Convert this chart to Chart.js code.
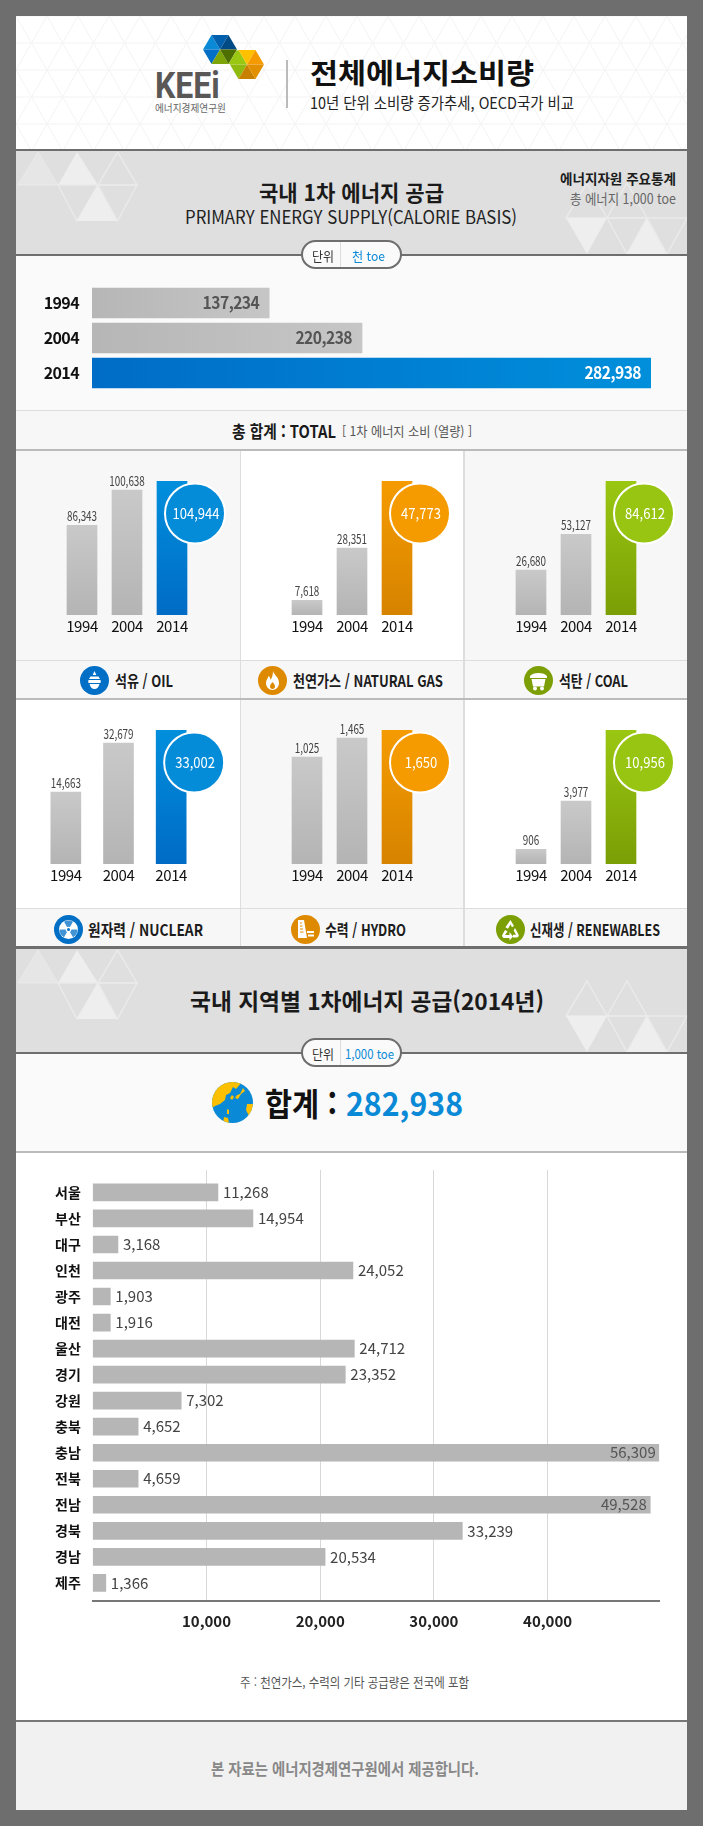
<!DOCTYPE html>
<html lang="ko"><head><meta charset="utf-8"><title>전체에너지소비량</title>
<script src="https://cdn.jsdelivr.net/npm/chart.js@4/dist/chart.umd.js"></script>
<style>
html,body{margin:0;padding:0;background:#6e6e6e;width:703px;height:1826px;overflow:hidden}
#page{position:relative;width:703px;height:1826px;overflow:hidden;font-family:"Noto Sans CJK KR","Noto Sans",sans-serif}
.b{position:absolute}
.t{position:absolute;white-space:nowrap;line-height:1;transform-origin:0 50%}
canvas{position:absolute;display:block}
svg{position:absolute}
</style></head><body><div id="page"></div>
<script>
/* The reference's bars are not proportional to the numbers printed on them, so each
   chart keeps the printed numbers and the bar lengths. */
const years=['1994','2004','2014'];
const totalPrinted=[137234,220238,282938];
const totalBars=[31.7,48.3,100];
const oilPrinted=[86343,100638,104944];
const oilBars=[67,93.2,100];
const gasPrinted=[7618,28351,47773];
const gasBars=[11,50,100];
const coalPrinted=[26680,53127,84612];
const coalBars=[33.5,60.2,100];
const nuclearPrinted=[14663,32679,33002];
const nuclearBars=[53.7,90.3,100];
const hydroPrinted=[1025,1465,1650];
const hydroBars=[79.8,94,100];
const renewPrinted=[906,3977,10956];
const renewBars=[11,46.9,100];
const regionNames=['서울','부산','대구','인천','광주','대전','울산','경기','강원','충북','충남','전북','전남','경북','경남','제주'];
const regionPrinted=[11268,14954,3168,24052,1903,1916,24712,23352,7302,4652,56309,4659,49528,33239,20534,1366];
const regionBars=[11005,14083,2210,22880,1540,1540,23000,22208,7772,3987,49815,3987,49025,32500,20430,1145];
const regionTicks=[10000,20000,30000,40000];

const FONT='"Noto Sans CJK KR","Noto Sans",sans-serif';
const page=document.getElementById('page');
const fmt=v=>v.toLocaleString('en-US');
function box(x,y,w,h,c){const d=document.createElement('div');d.className='b';d.style.cssText=`left:${x}px;top:${y}px;width:${w}px;height:${h}px;background:${c}`;page.appendChild(d);return d}
function T(s,x,y,w,size,weight,color){const d=document.createElement('div');d.className='t';d.textContent=s;
 d.style.cssText=`left:${x}px;top:${y}px;font-size:${size}px;font-weight:${weight};color:${color}`;page.appendChild(d);
 const m=d.getBoundingClientRect().width;d.style.transform=`translateY(-50%) scaleX(${w/m})`;return d}
function svg(x,y,w,h,inner){const n=document.createElementNS('http://www.w3.org/2000/svg','svg');n.setAttribute('width',w);n.setAttribute('height',h);n.setAttribute('viewBox',`0 0 ${w} ${h}`);n.style.left=x+'px';n.style.top=y+'px';n.innerHTML=inner;page.appendChild(n);return n}

/* ---------- backgrounds ---------- */
box(16,16,671,133,'#fff');
svg(16,16,671,133,`<defs><pattern id="tri" width="31" height="54" patternUnits="userSpaceOnUse" y="0"><path d="M0 0H31M0 27H31M0 54H31M0 0L31 54M31 0L0 54" stroke="#f3f3f3" fill="none" stroke-width="1"/></pattern></defs><rect width="671" height="133" fill="url(#tri)"/>`);
box(16,149,671,2,'#6e6e6e');
box(16,151,671,103,'#dfdfdf');
box(16,254,671,2,'#6e6e6e');
box(16,256,671,154,'#fafafa');
box(16,410,671,1,'#dddddd');
box(16,411,671,38,'#f7f7f7');
box(16,449,671,2,'#bbbbbb');
const colX=[16,241,465],colW=[223.5,222,222];
[[451,209,['#f7f7f7','#ffffff','#f7f7f7']],[700,208,['#ffffff','#f7f7f7','#ffffff']]].forEach(([y,h,cs])=>{
 cs.forEach((c,i)=>box(colX[i],y,colW[i],h,c));
 box(16,y+h,671,1,'#dddddd');
 box(16,y+h+1,671,37,'#f7f7f7');
 box(239.5,y,1.5,h+38,'#dddddd');box(463,y,2,h+38,'#dddddd');
});
box(16,698,671,2,'#bbbbbb');
box(16,947,671,2,'#6e6e6e');
box(16,949,671,103,'#dfdfdf');
box(16,1052,671,2,'#6e6e6e');
box(16,1054,671,97,'#fafafa');
box(16,1151,671,2,'#bbbbbb');
box(16,1153,671,568,'#ffffff');
box(16,1720,671,2,'#777777');
box(16,1722,671,88,'#f1f1f1');

function deco(dy){
 const f='#eeeeee';const o=`fill="none" stroke="#eaeaea" stroke-width="1.5"`;
 const P=(p,a)=>`<polygon points="${p}" ${a}/>`;
 return svg(16,dy+151,671,103,
 [P('2,34 22,1 42,34',`fill="#e6e6e6" stroke="#eaeaea"`),P('42,34 61,1 82,34',`fill="${f}"`),P('82,34 101.5,1 121,34',o),
  P('42,34 82,34 61,70',o),P('61,70 82,34 101.5,70',`fill="${f}"`),P('82,34 121,34 101.5,70',o),
  P('550,67 571,32 591,67',o),P('591,67 611,32 631,67',o),P('550,67 591,67 571,103',`fill="${f}"`),P('591,67 631,67 611,103',o),
  P('611,103 631,67 651,103',`fill="${f}"`),P('631,67 671,67 651,103',o)].join(''));
}
deco(0);deco(798);
</script>
<script>
/* ---------- charts ---------- */
Chart.defaults.animation=false;Chart.defaults.responsive=false;Chart.defaults.devicePixelRatio=1;
Chart.defaults.font.family=FONT;
Chart.defaults.plugins.legend.display=false;Chart.defaults.plugins.tooltip.enabled=false;

function canvas(x,y,w,h){const c=document.createElement('canvas');c.width=w;c.height=h;c.style.cssText=`left:${x}px;top:${y}px;width:${w}px;height:${h}px`;page.appendChild(c);return c}
function squeezed(ctx,text,x,y,sx,align,font,color){ctx.save();ctx.font=font;ctx.fillStyle=color;ctx.textBaseline='middle';ctx.textAlign=align;ctx.translate(x,y);ctx.scale(sx,1);ctx.fillText(text,0,0);ctx.restore()}
const spacing=px=>({id:'spacing',beforeDraw(c){c.ctx.letterSpacing=px}});
const noPad=s=>{s.paddingTop=s.paddingBottom=s.paddingLeft=s.paddingRight=0};

/* top horizontal bars */
new Chart(canvas(16,256,671,154),{type:'bar',
 data:{labels:years,datasets:[{data:totalBars,barThickness:30,backgroundColor(ctx){
   const c=ctx.chart,a=c.chartArea;if(!a)return '#bbb';
   const x1=c.scales.x.getPixelForValue(ctx.raw);const g=c.ctx.createLinearGradient(a.left,0,x1,0);
   if(ctx.dataIndex===2){g.addColorStop(0,'#006cc6');g.addColorStop(1,'#008fdb')}else{g.addColorStop(0,'#b6b6b6');g.addColorStop(1,'#c6c6c6')}
   return g}}]},
 options:{indexAxis:'y',layout:{padding:{top:29.5,bottom:19.5,right:36}},
  scales:{x:{display:false,min:0,max:100},
   y:{afterFit(s){s.width=76;noPad(s)},grid:{display:false,drawTicks:false},border:{display:false},
      ticks:{padding:13,color:'#111',font:{size:16,weight:'bold'}}}}},
 plugins:[spacing('-0.6px'),{id:'vals',afterDatasetsDraw(c){
   c.getDatasetMeta(0).data.forEach((b,i)=>squeezed(c.ctx,fmt(totalPrinted[i]),b.x-10,b.y,.92,'right','bold 17px '+FONT,i===2?'#ffffff':'#555555'))}}]});

/* six small multiples */
const panels=[
 {x:0,r:0,left:59.5,w:135,bars:oilBars,vals:oilPrinted,c:['#008fdc','#006bc5'],dot:'#048cd9'},
 {x:1,r:0,left:284.5,w:135,bars:gasBars,vals:gasPrinted,c:['#f59b00','#d68300'],dot:'#f59b00'},
 {x:2,r:0,left:508.5,w:135,bars:coalBars,vals:coalPrinted,c:['#9ac712','#7a9e05'],dot:'#97c512'},
 {x:0,r:1,left:39.5,w:158,bars:nuclearBars,vals:nuclearPrinted,c:['#008fdc','#006bc5'],dot:'#048cd9'},
 {x:1,r:1,left:284.5,w:135,bars:hydroBars,vals:hydroPrinted,c:['#f59b00','#d68300'],dot:'#f59b00'},
 {x:2,r:1,left:508.5,w:135,bars:renewBars,vals:renewPrinted,c:['#9ac712','#7a9e05'],dot:'#97c512'}];
panels.forEach(p=>{
 const X=colX[p.x],Y=p.r?700:451,W=Math.ceil(colW[p.x]),H=208;
 const plotTop=(p.r?730:481)-Y;
 new Chart(canvas(X,Y,W,H),{type:'bar',
  data:{labels:years,datasets:[{data:p.bars,barThickness:30,backgroundColor(ctx){
    const c=ctx.chart,a=c.chartArea;if(!a)return '#bbb';
    const g=c.ctx.createLinearGradient(0,c.scales.y.getPixelForValue(ctx.raw),0,a.bottom);
    if(ctx.dataIndex===2){g.addColorStop(0,p.c[0]);g.addColorStop(1,p.c[1])}else{g.addColorStop(0,'#c9c9c9');g.addColorStop(1,'#b4b4b4')}
    return g}}]},
  options:{layout:{padding:{left:p.left-X,right:W-(p.left-X)-p.w,top:plotTop,bottom:0}},
   scales:{y:{display:false,min:0,max:100},
    x:{afterFit(s){s.height=H-plotTop-134;noPad(s)},grid:{display:false,drawTicks:false},border:{display:false},
       ticks:{padding:2,color:'#111111',font:{size:15},maxRotation:0}}}},
  plugins:[spacing('-0.4px'),{id:'vals',afterDatasetsDraw(c){
    const ctx=c.ctx;ctx.letterSpacing='0px';
    c.getDatasetMeta(0).data.forEach((b,i)=>{
     if(i<2){squeezed(ctx,fmt(p.vals[i]),b.x,b.y-9,.76,'center','13px '+FONT,'#444444');return}
     const cx=b.x+23,cy=b.y+32.5;
     ctx.save();ctx.beginPath();ctx.arc(cx,cy,30,0,Math.PI*2);ctx.fillStyle=p.dot;ctx.fill();ctx.lineWidth=2;ctx.strokeStyle='#ffffff';ctx.stroke();ctx.restore();
     squeezed(ctx,fmt(p.vals[i]),cx+1,cy,.87,'center','15px '+FONT,'#ffffff');
    });ctx.letterSpacing='-0.4px'}}]});
});

/* regional horizontal bars */
new Chart(canvas(16,1153,671,507),{type:'bar',
 data:{labels:regionNames,datasets:[{data:regionBars.map((v,i)=>({x:v,y:i})),barThickness:17,backgroundColor:'#b6b6b6'}]},
 options:{indexAxis:'y',layout:{padding:{top:17,right:27.8,bottom:0}},
  scales:{
   x:{type:'linear',min:0,max:49815,afterBuildTicks(s){s.ticks=regionTicks.map(v=>({value:v}))},afterFit(s){s.height=59;noPad(s)},
      grid:{color:'#d8d8d8',lineWidth:1,drawTicks:false},border:{display:true,color:'#777777',width:2},
      ticks:{padding:11,color:'#222222',font:{size:15,weight:'bold'},callback:v=>fmt(v),maxRotation:0}},
   y:{type:'linear',offset:false,reverse:true,min:-0.861,max:15.697,afterBuildTicks(s){s.ticks=regionNames.map((_,i)=>({value:i}))},afterFit(s){s.width=76.8;noPad(s)},
      grid:{display:false,drawTicks:false,offset:false},border:{display:false},
      ticks:{padding:12,autoSkip:false,color:'#111111',font:{size:14,weight:'bold'},callback:v=>regionNames[v]}}}},
 plugins:[{id:'vals',afterDatasetsDraw(c){
   const ctx=c.ctx,a=c.chartArea;ctx.save();
   c.getDatasetMeta(0).data.forEach((b,i)=>{
    const s=fmt(regionPrinted[i]);ctx.font='15px '+FONT;const w=ctx.measureText(s).width;
    if(b.x+5+w>a.right)squeezed(ctx,s,b.x-3.5,b.y,1,'right','15px '+FONT,'#555555');
    else squeezed(ctx,s,b.x+5,b.y,1,'left','15px '+FONT,'#444444');
   });ctx.restore()}}]});
</script>
<script>
/* ---------- header, logo, real text ---------- */
const tris=(pts)=>pts.map(([p,c])=>`<polygon points="${p}" fill="${c}"/>`).join('');
svg(195,30,80,55,tris([
 ['25,19.5 8,19.5 16.5,5','#0a8ad6'],['25,19.5 16.5,5 33.5,5','#0060ad'],['25,19.5 33.5,5 42,19.5','#004a85'],
 ['25,19.5 8,19.5 16.5,34','#006fc5'],['25,19.5 16.5,34 33.5,34','#7da50a'],['25,19.5 33.5,34 42,19.5','#4f6e00'],
 ['42,19.5 33.5,34 50.5,34','#9ac712'],
 ['52,34.5 35,34.5 43.5,20','#9ac712'],['52,34.5 43.5,20 60.5,20','#ffc000'],['52,34.5 60.5,20 69,34.5','#f59b00'],
 ['52,34.5 35,34.5 43.5,49','#8fba10'],['52,34.5 43.5,49 60.5,49','#c88000'],['52,34.5 60.5,49 69,34.5','#e39000']]));
T('KEEi',155,86,71,36,'bold','#5a5757').style.fontFamily='Roboto,'+FONT;
T('에너지경제연구원',155,108,71,10,'normal','#666666');
box(286,60,2,48,'#bbbbbb');
T('전체에너지소비량',310,72,224,28,'bold','#111111');
T('10년 단위 소비량 증가추세, OECD국가 비교',310,102,264,16,'normal','#222222');

T('국내 1차 에너지 공급',259,191,185,22,'bold','#1a1a1a');
T('PRIMARY ENERGY SUPPLY(CALORIE BASIS)',185,216,332,18,'normal','#222222');
T('에너지자원 주요통계',560,178,116,14,'bold','#1c1c1c');
T('총 에너지 1,000 toe',570,198,106,14,'normal','#666666');

function pill(y,label,x,w){
 const p=box(301,y,101,29,'#fafafa');p.style.border='2px solid #6e6e6e';p.style.borderRadius='15px';p.style.boxSizing='border-box';
 box(339.5,y+2,1,25,'#dddddd');
 T('단위',312,y+14.5,22,13,'normal','#333333');
 T(label,x,y+14.5,w,13,'normal','#0a8ad6');
}
pill(240,'천 toe',352,33);
pill(1038,'1,000 toe',345,49);

T('총 합계 : TOTAL',232,430,104,17,'bold','#1a1a1a');
T('[ 1차 에너지 소비 (열량) ]',342,430,130,13,'normal','#555555');

const icon=(cx,cy,c,g)=>svg(cx-14.5,cy-14.5,29,29,`<circle cx="14.5" cy="14.5" r="14.5" fill="${c}"/>${g}`);
const gOil=`<path d="M14.5 5l1.8 4h-3.6zM8.5 14h12c.4 1 .4 2 0 3h-12c-.4-1-.4-2 0-3zM9.5 18h10c-.7 3-2.5 5-5 5s-4.3-2-5-5zM10.5 10.5h8l1.5 2.5h-11z" fill="#fff"/>`;
const gGas=`<path d="M15 5c1 4 6 6 6 12 0 4-3 7-6.500 7S8 21 8 17c0-3 2-4.500 2.500-7 1.500 1 2 2.500 2 4 1.500-2 2.500-5 2.500-9zM14.500 16c-1 1.500-2.500 2.500-2.500 4.500 0 1.500 1 2.500 2.500 2.500s2.500-1 2.500-2.500c0-2-1.500-3-2.500-4.500z" fill="#fff" fill-rule="evenodd"/>`;
const gCoal=`<path d="M6 10c2-2 4-3 8.500-3s6.500 1 8.500 3v2H6zM7.500 13h14l-1.500 7.500H9z" fill="#fff"/><circle cx="11" cy="22.500" r="2" fill="#fff"/><circle cx="18" cy="22.500" r="2" fill="#fff"/>`;
const gNuc=`<circle cx="14.500" cy="14.500" r="9.500" fill="#fff"/><circle cx="14.500" cy="14.500" r="1.600" fill="#006fc5"/><path d="M14.500 14.500L10 6.800A9 9 0 0 1 19 6.800zM14.500 14.500l9 0a9 9 0 0 1-4.500 7.800zM14.500 14.500L10 22.300A9 9 0 0 1 5.500 14.500z" fill="#006fc5" opacity=".75"/><circle cx="14.500" cy="14.500" r="2.800" fill="#fff"/><circle cx="14.500" cy="14.500" r="1.500" fill="#006fc5"/>`;
const gHydro=`<path d="M7 5h6l3 18H7z" fill="#fff"/><path d="M16 16h7v2h-7zM17 19.500h6v2h-6z" fill="#fff"/><path d="M9 8h2M9 11h2.500M9 14h3M9 17h3.500" stroke="#dd8a00" stroke-width="1"/>`;
const gRenew=`<path d="M14.500 5l3.500 6-2 1.200-1.500-2.700-2.500 4.300-2.600-1.500zM19 13l3.500 6.500c.7 1.500-.3 3-2 3h-3.500v-2.700h3l-2.400-4.300zM6.500 19.500L9 15l2.500 1.500L9 20h4.500v-3l3.500 4.500-3.500 4v-2.500H8.500c-1.800 0-3-2-2-3.500z" fill="#fff"/>`;
const ro=680,rt=929;
icon(94.5,ro,'#006fc5',gOil);  T('석유 / OIL',115,ro,58,16,'bold','#1c1c1c');
icon(272.5,ro,'#dd8a00',gGas); T('천연가스 / NATURAL GAS',293,ro,150,16,'bold','#1c1c1c');
icon(538,ro,'#7c9f05',gCoal);  T('석탄 / COAL',559,ro,69,16,'bold','#1c1c1c');
icon(68.5,rt,'#006fc5',gNuc);  T('원자력 / NUCLEAR',88,rt,115,16,'bold','#1c1c1c');
icon(305,rt,'#dd8a00',gHydro); T('수력 / HYDRO',325,rt,81,16,'bold','#1c1c1c');
icon(510.5,rt,'#7c9f05',gRenew);T('신재생 / RENEWABLES',530,rt,130,16,'bold','#1c1c1c');

T('국내 지역별 1차에너지 공급(2014년)',190,1000,354,23,'bold','#1a1a1a');
svg(212,1082,41,41,`<defs><clipPath id="gl"><circle cx="20.500" cy="20.500" r="20.500"/></clipPath></defs><g clip-path="url(#gl)"><rect width="41" height="41" fill="#0a8ad6"/><path d="M0 0H30L24 7 21 5 18 11 14 13 13 18 8 22 3 24 0 26z" fill="#fcc000"/><path d="M31 6l2 3-4 3-3 5-3-1 2-3 3-1zM35 22h6v9l-4 3-3-6zM15 27l2 1 0 4-2 0zM12 35l4 1 1 5h-6zM20 13l2 2-2 3-2-2z" fill="#fcc000"/></g>`);
T('합계 :',264.5,1102,72,32,'bold','#111111');
T('282,938',346,1102,117,32,'bold','#0a8ad6');

T('주 : 천연가스, 수력의 기타 공급량은 전국에 포함',239.5,1681,229,13,'normal','#555555');
T('본 자료는 에너지경제연구원에서 제공합니다.',211,1767.5,268,16,'bold','#888888');
</script>
</body></html>
